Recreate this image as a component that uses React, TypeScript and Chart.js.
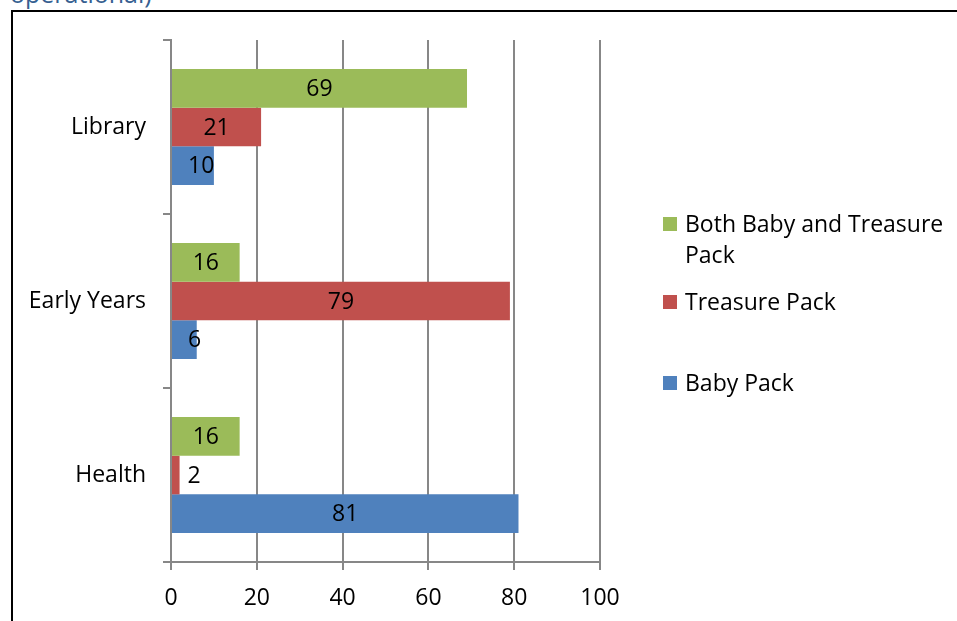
import React, { useEffect, useRef } from "react";
import { Chart, registerables } from "chart.js";

Chart.register(...registerables);

const categories = ["Library", "Early Years", "Health"];
const seriesNames = ["Both Baby and Treasure Pack", "Treasure Pack", "Baby Pack"];
const bothValues = [69, 16, 16];
const treasureValues = [21, 79, 2];
const babyValues = [10, 6, 81];
const xTicks = [0, 20, 40, 60, 80, 100];

const COLORS = ["#9BBB59", "#C0504D", "#4F81BD"];
const FONT = "'Open Sans', sans-serif";
const FONT_SIZE = 23;
const GRID = "#878787";
const LEGEND_X = 663;
const LEGEND_ROW_Y = [224, 302, 383];
const LEGEND_LINE = 31;
const LEGEND_WRAP = 262;

const labelPlugin = {
  id: "barLabels",
  afterDatasetsDraw(chart: any) {
    const ctx = chart.ctx;
    ctx.save();
    ctx.font = `${FONT_SIZE}px ${FONT}`;
    ctx.fillStyle = "#000";
    ctx.textBaseline = "middle";
    ctx.textAlign = "left";
    chart.data.datasets.forEach((ds: any, di: number) => {
      const meta = chart.getDatasetMeta(di);
      meta.data.forEach((el: any, i: number) => {
        const text = String(ds.data[i]);
        const w = ctx.measureText(text).width;
        const barW = el.x - el.base;
        if (barW >= w + 6) {
          const left = Math.max((el.x + el.base) / 2 - w / 2, el.base + 16);
          ctx.fillText(text, left, el.y + 1);
        } else {
          ctx.fillText(text, el.x + 8, el.y + 1);
        }
      });
    });
    ctx.restore();
  },
};

const legendPlugin = {
  id: "wrapLegend",
  afterDraw(chart: any) {
    const ctx = chart.ctx;
    ctx.save();
    ctx.font = `${FONT_SIZE}px ${FONT}`;
    ctx.textBaseline = "middle";
    ctx.textAlign = "left";
    chart.data.datasets.forEach((ds: any, di: number) => {
      const y0 = LEGEND_ROW_Y[di];
      ctx.fillStyle = ds.backgroundColor;
      ctx.fillRect(LEGEND_X, y0 - 7, 14, 14);
      const words = String(ds.label).split(" ");
      const lines: string[] = [];
      let cur = "";
      words.forEach((w) => {
        const t = cur ? cur + " " + w : w;
        if (ctx.measureText(t).width > LEGEND_WRAP && cur) {
          lines.push(cur);
          cur = w;
        } else cur = t;
      });
      if (cur) lines.push(cur);
      ctx.fillStyle = "#000";
      lines.forEach((ln, li) => {
        ctx.fillText(ln, LEGEND_X + 22, y0 + 1 + li * LEGEND_LINE);
      });
    });
    ctx.restore();
  },
};

export default function App() {
  const ref = useRef<HTMLCanvasElement>(null);
  useEffect(() => {
    if (!ref.current) return;
    const chart = new Chart(ref.current, {
      type: "bar",
      data: {
        labels: categories,
        datasets: [
          { label: seriesNames[0], data: bothValues, backgroundColor: COLORS[0] },
          { label: seriesNames[1], data: treasureValues, backgroundColor: COLORS[1] },
          { label: seriesNames[2], data: babyValues, backgroundColor: COLORS[2] },
        ],
      },
      options: {
        indexAxis: "y",
        responsive: false,
        animation: false,
        devicePixelRatio: 1,
        datasets: { bar: { categoryPercentage: 0.667, barPercentage: 1 } },
        layout: { padding: { left: 0, right: 357, top: 40, bottom: 0 } },
        plugins: { legend: { display: false }, tooltip: { enabled: false } },
        scales: {
          x: {
            min: 0,
            max: 100,
            afterBuildTicks: (s: any) => {
              s.ticks = xTicks.map((v) => ({ value: v }));
            },
            afterFit: (s: any) => {
              s.height = 59;
            },
            grid: { color: GRID, lineWidth: 2, tickLength: 8, drawTicks: true },
            border: { display: true, color: GRID, width: 2 },
            ticks: { color: "#000", padding: 15, font: { family: FONT, size: FONT_SIZE } },
          },
          y: {
            afterFit: (s: any) => {
              s.width = 171;
            },
            grid: { color: GRID, lineWidth: 2, tickLength: 8, drawOnChartArea: false, offset: true },
            border: { display: true, color: GRID, width: 2 },
            ticks: { color: "#000", padding: 17, font: { family: FONT, size: FONT_SIZE } },
          },
        },
      },
      plugins: [labelPlugin, legendPlugin],
    } as any);
    return () => chart.destroy();
  }, []);

  return (
    <div style={{ position: "fixed", left: 0, top: 0, width: 957, height: 621, overflow: "hidden", background: "#fff" }}>
      <div
        style={{
          position: "absolute",
          left: 10,
          top: -19,
          fontFamily: FONT,
          fontSize: 25,
          lineHeight: "25px",
          color: "#365F91",
          whiteSpace: "nowrap",
        }}
      >
        operational)
      </div>
      <div
        style={{
          position: "absolute",
          left: 11,
          top: 10,
          width: 960,
          height: 630,
          border: "2px solid #000",
          boxSizing: "border-box",
        }}
      />
      <canvas ref={ref} width={957} height={621} style={{ position: "absolute", left: 0, top: 0, width: 957, height: 621 }} />
    </div>
  );
}
